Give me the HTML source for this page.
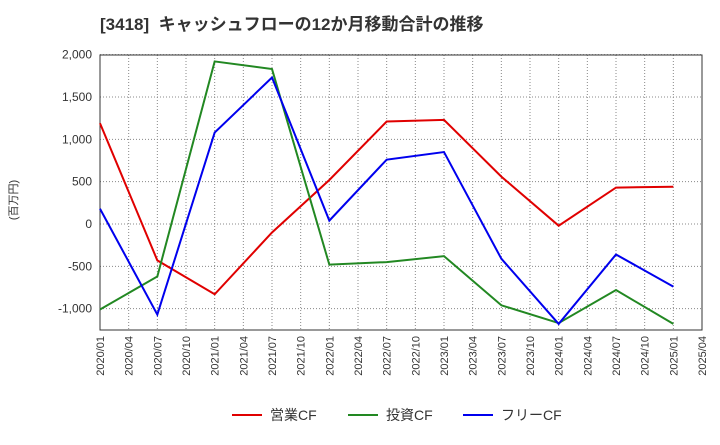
<!DOCTYPE html>
<html><head><meta charset="utf-8"><style>
body{margin:0;background:#fff;font-family:"Liberation Sans","Noto Sans CJK JP",sans-serif;}
svg text{font-family:"Liberation Sans","Noto Sans CJK JP",sans-serif;}
</style></head><body>
<svg id="chart" width="720" height="440">
<text x="100" y="30" font-size="17" font-weight="bold" fill="#333" xml:space="preserve">[3418]  キャッシュフローの12か月移動合計の推移</text>
<text x="0" y="0" font-size="11" fill="#333" transform="translate(17,200) rotate(-90)" text-anchor="middle">(百万円)</text>
<g id="grid"></g><g id="axes"></g><g id="series"></g>
<g id="legend"></g>
</svg>
<script>
const categories=["2020/01","2020/07","2021/01","2021/07","2022/01","2022/07","2023/01","2023/07","2024/01","2024/07","2025/01"];
const tickLabels=["2020/01","2020/04","2020/07","2020/10","2021/01","2021/04","2021/07","2021/10","2022/01","2022/04","2022/07","2022/10","2023/01","2023/04","2023/07","2023/10","2024/01","2024/04","2024/07","2024/10","2025/01","2025/04"];
const yTicks=[-1000,-500,0,500,1000,1500,2000];
const operatingCF=[1190,-430,-830,-100,520,1210,1230,560,-20,430,440];
const investingCF=[-1010,-620,1920,1830,-480,-450,-380,-960,-1170,-780,-1180];
const freeCF=[180,-1070,1080,1730,40,760,850,-410,-1180,-360,-740];
const NS="http://www.w3.org/2000/svg";
const L=100,R=702,T=55,B=330;
const yv=v=>224-v*0.08467;
const xq=i=>L+(R-L)*i/21;
const xc=i=>xq(i*2);
function mk(tag,attrs,parent){const e=document.createElementNS(NS,tag);for(const k in attrs)e.setAttribute(k,attrs[k]);parent.appendChild(e);return e;}
const grid=document.getElementById('grid'),axes=document.getElementById('axes'),series=document.getElementById('series'),legend=document.getElementById('legend');
tickLabels.forEach((t,i)=>{
 const x=xq(i);
 const g=mk('line',{x1:x,x2:x,y1:T,y2:B,stroke:'#888','stroke-dasharray':'1,2','stroke-width':1},grid);
 
 
 const tx=mk('text',{x:0,y:0,'font-size':11,fill:'#333','text-anchor':'end',transform:`translate(${x+4},${B+6}) rotate(-90)`},axes);
 tx.textContent=t;
 
 
});
yTicks.forEach(v=>{
 const y=yv(v);
 const g=mk('line',{x1:L,x2:R,y1:y,y2:y,stroke:'#888','stroke-dasharray':'1,2','stroke-width':1},grid);
 
 
 const tx=mk('text',{x:L-8,y:y+4,'font-size':12,fill:'#333','text-anchor':'end'},axes);
 tx.textContent=v.toLocaleString('en-US');
 
 
});
const frame=mk('rect',{x:L,y:T,width:R-L,height:B-T,fill:'none',stroke:'#333','stroke-width':1},axes);


const defs=[[operatingCF,'#e00000','営業CF','operating-cf-line'],[investingCF,'#228822','投資CF','investing-cf-line'],[freeCF,'#0000ee','フリーCF','free-cf-line']];
defs.forEach(([d,c,n,name])=>{
 const p=mk('polyline',{points:d.map((v,i)=>xc(i)+','+yv(v)).join(' '),fill:'none',stroke:c,'stroke-width':2},series);
 
 
});
const lx=[232,348,463];
defs.forEach(([d,c,n],i)=>{
 const ln=mk('line',{x1:lx[i],x2:lx[i]+30,y1:415,y2:415,stroke:c,'stroke-width':2},legend);
 
 
 const tx=mk('text',{x:lx[i]+38,y:420,'font-size':14,fill:'#333'},legend);
 tx.textContent=n;
 
 
});
</script>
</body></html>
